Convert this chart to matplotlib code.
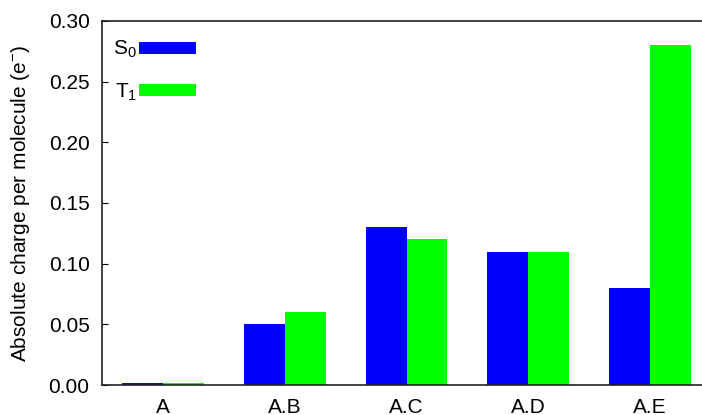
import numpy as np
import matplotlib
matplotlib.use("Agg")
import matplotlib.pyplot as plt

plt.rcParams['font.family'] = ['Liberation Sans', 'DejaVu Sans']
plt.rcParams['mathtext.fontset'] = 'custom'
plt.rcParams['mathtext.rm'] = 'Liberation Sans'
plt.rcParams['mathtext.it'] = 'Liberation Sans:italic'

categories = ['A', 'A.B', 'A.C', 'A.D', 'A.E']
s0 = [0.0015, 0.05, 0.13, 0.11, 0.08]
t1 = [0.0015, 0.06, 0.12, 0.11, 0.28]

fig = plt.figure(figsize=(7.02, 4.15), dpi=100)
ax = fig.add_axes([102 / 702, 30 / 415, 609 / 702, 364 / 415])

x = np.arange(len(categories))
w = 0.335
b1 = ax.bar(x - w / 2, s0, w, color='#0000ff', label='S$_0$')
b2 = ax.bar(x + w / 2, t1, w, color='#00ff00', label='T$_1$')

ax.set_xlim(-0.5, 4.5)
ax.set_ylim(0, 0.30)
ax.set_yticks(np.arange(0, 0.31, 0.05))
ax.set_yticklabels(['%.2f' % v for v in np.arange(0, 0.31, 0.05)])
ax.set_xticks(x)
ax.set_xticklabels(categories)
ax.tick_params(axis='y', direction='in', length=4, labelsize=15, pad=9)
ax.tick_params(axis='x', length=0, labelsize=15, pad=9)
for side in ['left', 'top', 'bottom']:
    ax.spines[side].set_linewidth(1.2)
    ax.spines[side].set_color('#222222')
ax.spines['right'].set_visible(False)

ax.set_ylabel('Absolute charge per molecule (e$^{-}$)', fontsize=15, labelpad=12)

ax.legend(loc='upper left', frameon=False, markerfirst=False, fontsize=15,
          handlelength=2.72, handleheight=0.53, handletextpad=0.1,
          labelspacing=1.0, borderaxespad=0.0, bbox_to_anchor=(0.005, 0.973))

fig.savefig('out.png', dpi=100)
